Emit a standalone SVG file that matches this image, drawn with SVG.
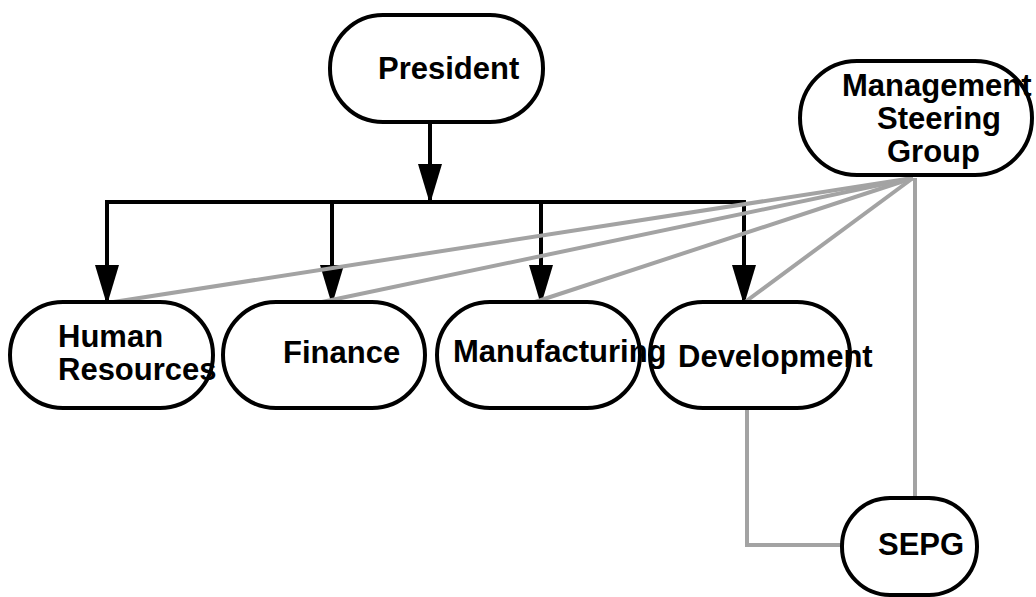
<svg xmlns="http://www.w3.org/2000/svg" width="1036" height="597" viewBox="0 0 1036 597">
<style>
.node{fill:#fff;stroke:#000;stroke-width:4}
.lbl{font-family:"Liberation Sans",Arial,sans-serif;font-weight:bold;font-size:31px;fill:#000}
.arr{fill:none;stroke:#000;stroke-width:4}
.gray{fill:none;stroke:#a3a3a3;stroke-width:4}
</style>
<defs>
<marker id="ah" markerUnits="userSpaceOnUse" markerWidth="40" markerHeight="24" refX="40" refY="12" orient="auto" viewBox="0 0 40 24">
<path d="M0,0 L40,12 L0,24 Z" fill="#000"/>
</marker>
</defs>
<g id="connectors">
<path class="arr" d="M430,122 V204" marker-end="url(#ah)"/>
<path class="arr" d="M105,202 H746"/>
<path class="arr" d="M107,202 V305" marker-end="url(#ah)"/>
<path class="arr" d="M332,202 V305" marker-end="url(#ah)"/>
<path class="arr" d="M541,202 V305" marker-end="url(#ah)"/>
<path class="arr" d="M744,202 V305" marker-end="url(#ah)"/>
<path class="gray" d="M913,178 L107,303"/>
<path class="gray" d="M913,178 L322,302"/>
<path class="gray" d="M913,178 L535,302"/>
<path class="gray" d="M913,178 L745,302"/>
<path class="gray" d="M915,178 V498"/>
<path class="gray" d="M747,408 V545 H842"/>
</g>
<g id="president">
<rect class="node" x="330" y="15" width="213" height="107" rx="53"/>
<text class="lbl" x="378" y="79">President</text>
</g>
<g id="msg">
<rect class="node" x="800" y="61" width="232" height="114" rx="57"/>
<text class="lbl" x="842" y="96">Management</text>
<text class="lbl" x="877" y="129">Steering</text>
<text class="lbl" x="887" y="162">Group</text>
</g>
<g id="hr">
<rect class="node" x="10" y="302" width="203" height="106" rx="53"/>
<text class="lbl" x="58" y="347">Human</text>
<text class="lbl" x="58" y="380">Resources</text>
</g>
<g id="finance">
<rect class="node" x="223" y="302" width="202" height="106" rx="53"/>
<text class="lbl" x="283" y="363">Finance</text>
</g>
<g id="development">
<rect class="node" x="650" y="302" width="200" height="106" rx="53"/>
<text class="lbl" x="678" y="367">Development</text>
</g>
<g id="manufacturing">
<rect class="node" x="437" y="302" width="203" height="106" rx="53"/>
<text class="lbl" x="453" y="362">Manufacturing</text>
</g>
<g id="sepg">
<rect class="node" x="842" y="498" width="135" height="97" rx="48"/>
<text class="lbl" x="878" y="555">SEPG</text>
</g>
</svg>
